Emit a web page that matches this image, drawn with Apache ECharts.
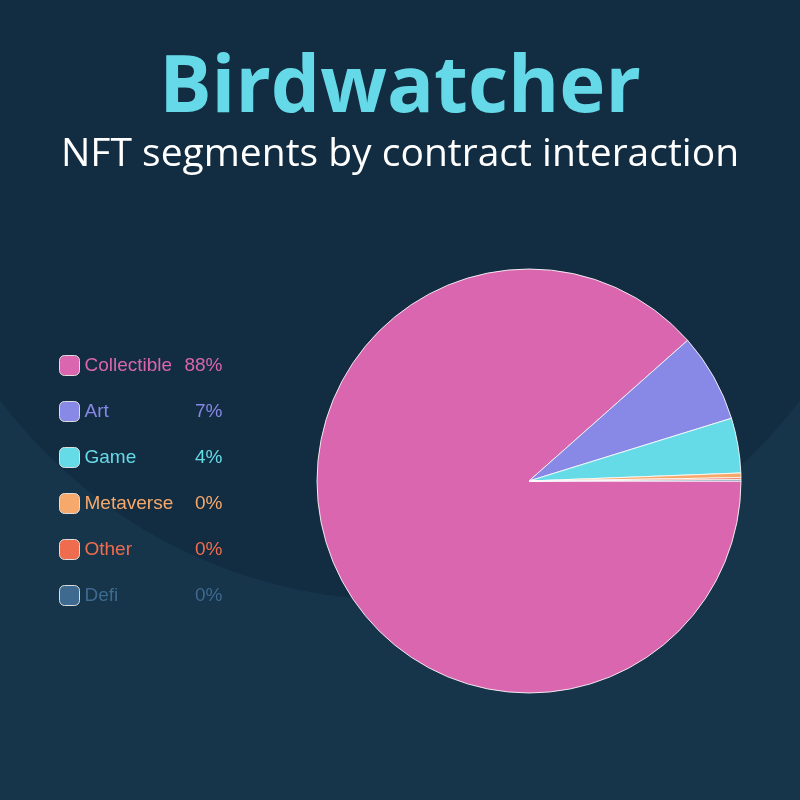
<!DOCTYPE html>
<html>
<head>
<meta charset="utf-8">
<script src="https://cdn.jsdelivr.net/npm/echarts@6/dist/echarts.min.js"></script>
<style>
  html, body { margin: 0; padding: 0; background: #16344a; }
  #chart { width: 800px; height: 800px; }
</style>
</head>
<body>
<div id="chart"></div>
<script>
// segment shares (percent of contract interactions)
const segments = ["Collectible", "Art", "Game", "Metaverse", "Other", "Defi"];
const shares = [88.25, 6.75, 4.17, 0.35, 0.15, 0.1];
const colors = ["#d966ae", "#8888e6", "#66dbe8", "#f7a96b", "#f06c4e", "#3d6a8e"];

const chart = echarts.init(document.getElementById("chart"));
const total = shares.reduce((a, b) => a + b, 0);

chart.setOption({
  backgroundColor: "#16344a",
  color: colors,
  graphic: [
    {
      type: "circle",
      z: -10,
      silent: true,
      shape: { cx: 400, cy: 100, r: 500 },
      style: { fill: "#122c41" }
    }
  ],
  title: {
    text: "Birdwatcher",
    subtext: "NFT segments by contract interaction",
    left: "center",
    top: 46,
    itemGap: 6,
    textStyle: {
      color: "#66d9e8",
      fontFamily: "Open Sans",
      fontWeight: "bold",
      fontSize: 78
    },
    subtextStyle: {
      color: "#ffffff",
      fontFamily: "Open Sans",
      fontSize: 39
    }
  },
  legend: {
    orient: "vertical",
    left: 54,
    top: 350,
    itemWidth: 20,
    itemHeight: 20,
    itemGap: 25,
    icon: "roundRect",
    itemStyle: { borderColor: "#dddddd", borderWidth: 1 },
    data: segments.map((s, i) => ({ name: s, textStyle: { color: colors[i] } })),
    textStyle: {
      fontFamily: "Liberation Sans",
      fontSize: 19,
      rich: {
        n: { width: 98, fontSize: 19 },
        p: { width: 40, align: "right", fontSize: 19 }
      }
    },
    formatter: function (name) {
      const i = segments.indexOf(name);
      const pct = Math.round(shares[i] / total * 100);
      return "{n|" + name + "}{p|" + pct + "%}";
    }
  },
  series: [
    {
      type: "pie",
      center: [529, 481],
      radius: 212,
      startAngle: 0,
      clockwise: true,
      label: { show: false },
      labelLine: { show: false },
      itemStyle: { borderColor: "rgba(255,255,255,0.85)", borderWidth: 1 },
      data: segments.map((s, i) => ({ name: s, value: shares[i] }))
    }
  ]
});
</script>
</body>
</html>
